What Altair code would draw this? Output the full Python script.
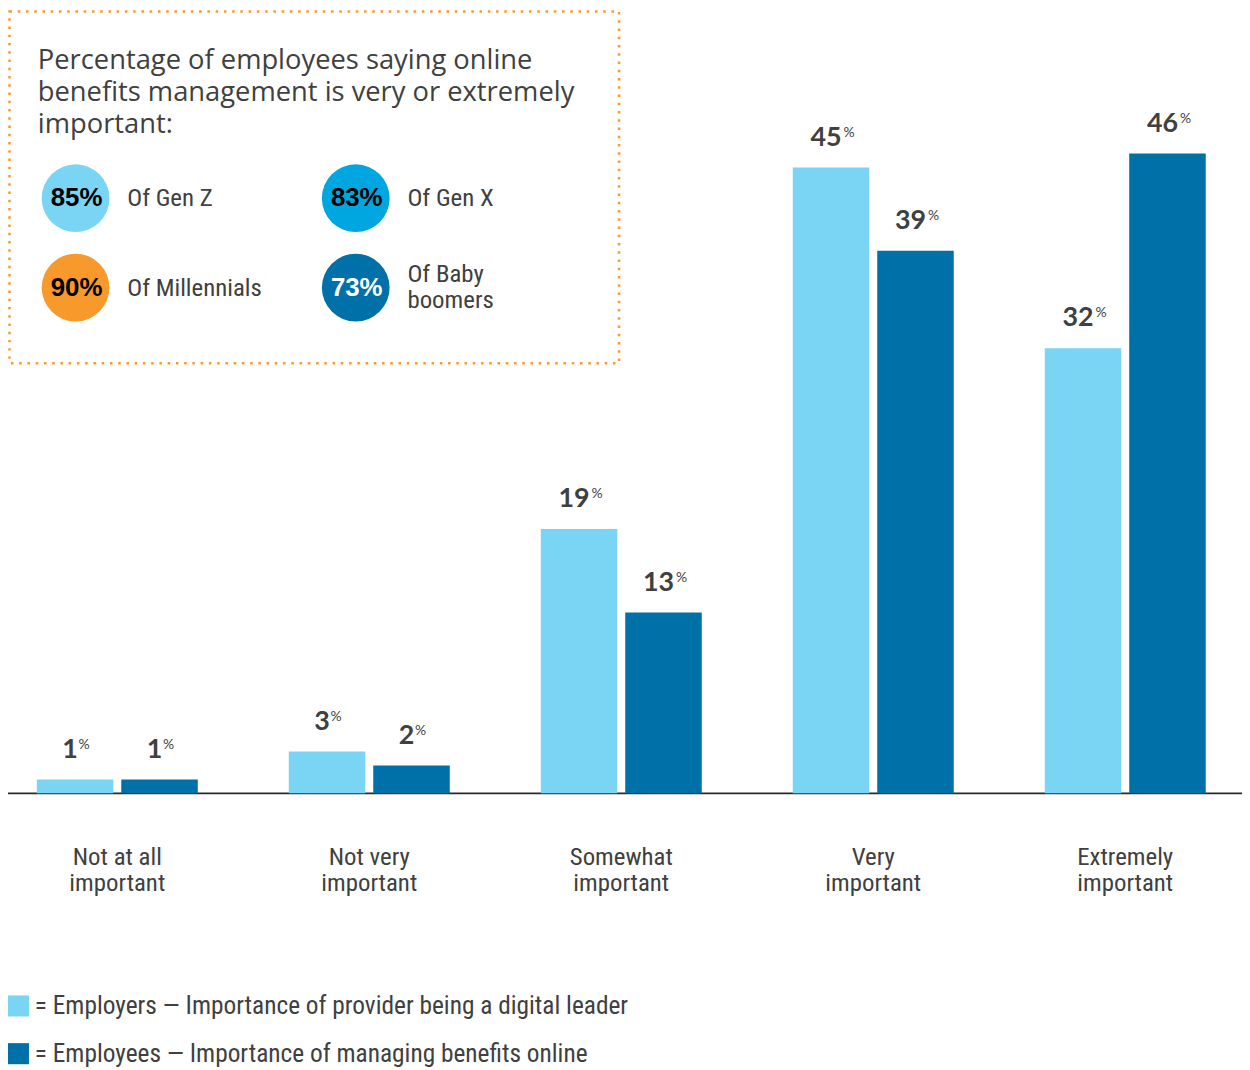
import altair as alt
import pandas as pd

# ---------------- data ----------------
categories = ["Not at all important", "Not very important", "Somewhat important",
              "Very important", "Extremely important"]
series = ["Employers", "Employees"]
employers = [1, 3, 19, 45, 32]
employees = [1, 2, 13, 39, 46]
series_desc = ["Employers \u2014 Importance of provider being a digital leader",
               "Employees \u2014 Importance of managing benefits online"]
gens = ["Gen Z", "Gen X", "Millennials", "Baby boomers"]
gen_pct = [85, 83, 90, 73]
inset_title = ["Percentage of employees saying online",
               "benefits management is very or extremely",
               "important:"]

# ---------------- styles ----------------
LIGHT = "#7AD5F5"
DARK = "#0070A8"
GENX = "#00A6DF"
ORANGE = "#F8992B"
TXT = "#404040"
NARROW = "Roboto Condensed, Roboto"

W, H = 1242, 1062
BASE_Y = 787

bars_df = pd.DataFrame({
    "category": categories * 2,
    "series": [series[0]] * len(categories) + [series[1]] * len(categories),
    "value": employers + employees,
})
gen_df = pd.DataFrame({"gen": gens, "pct": gen_pct})
legend_df = pd.DataFrame({"series": series, "desc": series_desc})
one_df = pd.DataFrame({"k": [0]})

x_scale = alt.Scale(type="band", domain=categories, range=[29, 1205.5],
                    paddingInner=0.3612, paddingOuter=0)
xo_scale = alt.Scale(type="band", domain=series, paddingInner=0.0941, paddingOuter=0)
y_scale = alt.Scale(domain=[0, BASE_Y / 14], range=[BASE_Y, 0], nice=False, zero=True)

x_enc = alt.X("category:N", scale=x_scale, axis=None)
xo_enc = alt.XOffset("series:N", scale=xo_scale)
y_enc = alt.Y("value:Q", scale=y_scale, axis=None)
color_enc = alt.Color("series:N", scale=alt.Scale(domain=series, range=[LIGHT, DARK]), legend=None)

base = alt.Chart(bars_df)

axis_line = alt.Chart(one_df).mark_rule(color="#2a2a2a", strokeWidth=1.6).encode(
    x=alt.value(0), x2=alt.value(W), y=alt.YDatum(0, scale=y_scale, axis=None)
)

bars = base.mark_bar().encode(x=x_enc, xOffset=xo_enc, y=y_enc, color=color_enc)

num_labels = base.mark_text(
    align="center", baseline="alphabetic", dx=-5, dy=-22,
    font="Lato", fontWeight="bold", fontSize=27, color=TXT
).encode(x=x_enc, xOffset=xo_enc, y=y_enc, text=alt.Text("value:Q"))

pct2 = base.transform_filter("datum.value >= 10").mark_text(
    align="left", baseline="alphabetic", dx=12.5, dy=-31,
    font="Lato", fontSize=14, color=TXT
).encode(x=x_enc, xOffset=xo_enc, y=y_enc, text=alt.value("%"))

pct1 = base.transform_filter("datum.value < 10").mark_text(
    align="left", baseline="alphabetic", dx=3.5, dy=-31,
    font="Lato", fontSize=14, color=TXT
).encode(x=x_enc, xOffset=xo_enc, y=y_enc, text=alt.value("%"))

cat_labels = base.transform_filter(f"datum.series == '{series[0]}'").transform_calculate(
    lab="substring(datum.category, 0, lastindexof(datum.category, ' ')) + '\\n' + "
        "substring(datum.category, lastindexof(datum.category, ' ') + 1)"
).mark_text(
    align="center", baseline="middle", lineBreak="\n", lineHeight=26,
    font=NARROW, fontSize=25, color=TXT
).encode(x=x_enc, y=alt.value(851), text="lab:N")

# ---------------- inset ----------------
border = alt.Chart(one_df).mark_rect(
    fillOpacity=0, stroke=ORANGE, strokeWidth=2.5, strokeDash=[2.5, 5.8]
).encode(x=alt.value(1.5), x2=alt.value(615), y=alt.value(0), y2=alt.value(354))

title = alt.Chart(one_df).mark_text(
    align="left", baseline="alphabetic", lineHeight=32,
    font="Open Sans", fontWeight=500, fontSize=27.5, color=TXT
).encode(x=alt.value(30), y=alt.value(58), text=alt.value(inset_title))

gen_base = alt.Chart(gen_df).transform_window(idx="row_number()").transform_calculate(
    col="(datum.idx - 1) % 2", row="floor((datum.idx - 1) / 2)",
    ptxt="datum.pct + '%'",
    lab="datum.gen == 'Baby boomers' ? 'Of Baby\\nboomers' : 'Of ' + datum.gen",
)
gx = alt.X("col:Q", scale=alt.Scale(domain=[0, 1], range=[68, 350], nice=False, zero=False), axis=None)
gy = alt.Y("row:Q", scale=alt.Scale(domain=[0, 1], range=[188, 278], nice=False, zero=False), axis=None)

circles = gen_base.mark_circle(size=4650, opacity=1).encode(
    x=gx, y=gy,
    color=alt.Color("gen:N", scale=alt.Scale(domain=gens, range=[LIGHT, GENX, ORANGE, DARK]), legend=None),
)
circle_txt = gen_base.mark_text(
    align="center", baseline="middle", dx=1, font="Liberation Sans", fontWeight="bold", fontSize=26
).encode(
    x=gx, y=gy, text="ptxt:N",
    color=alt.condition("datum.gen == 'Baby boomers'", alt.value("white"), alt.value("black")),
)
gen_lab_one = gen_base.transform_filter("indexof(datum.lab, '\\n') < 0").mark_text(
    align="left", baseline="middle", dx=52, lineBreak="\n", lineHeight=27,
    font=NARROW, fontSize=25, color=TXT
).encode(x=gx, y=gy, text="lab:N")
gen_lab_two = gen_base.transform_filter("indexof(datum.lab, '\\n') >= 0").mark_text(
    align="left", baseline="middle", dx=52, dy=-14, lineBreak="\n", lineHeight=27,
    font=NARROW, fontSize=25, color=TXT
).encode(x=gx, y=gy, text="lab:N")

# ---------------- legend ----------------
ly = alt.Y("series:N", scale=alt.Scale(type="point", domain=series, range=[1001, 1049], padding=0), axis=None)
leg_sq = alt.Chart(legend_df).mark_square(size=450, opacity=1).encode(
    x=alt.value(10.5), y=ly,
    color=alt.Color("series:N", scale=alt.Scale(domain=series, range=[LIGHT, DARK]), legend=None),
)
leg_txt = alt.Chart(legend_df).transform_calculate(t="'= ' + datum.desc").mark_text(
    align="left", baseline="middle", font=NARROW, fontSize=25.5, color=TXT
).encode(x=alt.value(27), y=ly, text="t:N")

chart = alt.layer(
    axis_line, bars, num_labels, pct2, pct1, cat_labels,
    border, title, circles, circle_txt, gen_lab_one, gen_lab_two, leg_sq, leg_txt
).resolve_scale(
    x="independent", y="independent", color="independent"
).properties(
    width=W, height=H, autosize="none", padding=0, background="white"
).configure_view(stroke=None)

chart.save("out.html", embed_options={"renderer": "svg", "actions": False})
